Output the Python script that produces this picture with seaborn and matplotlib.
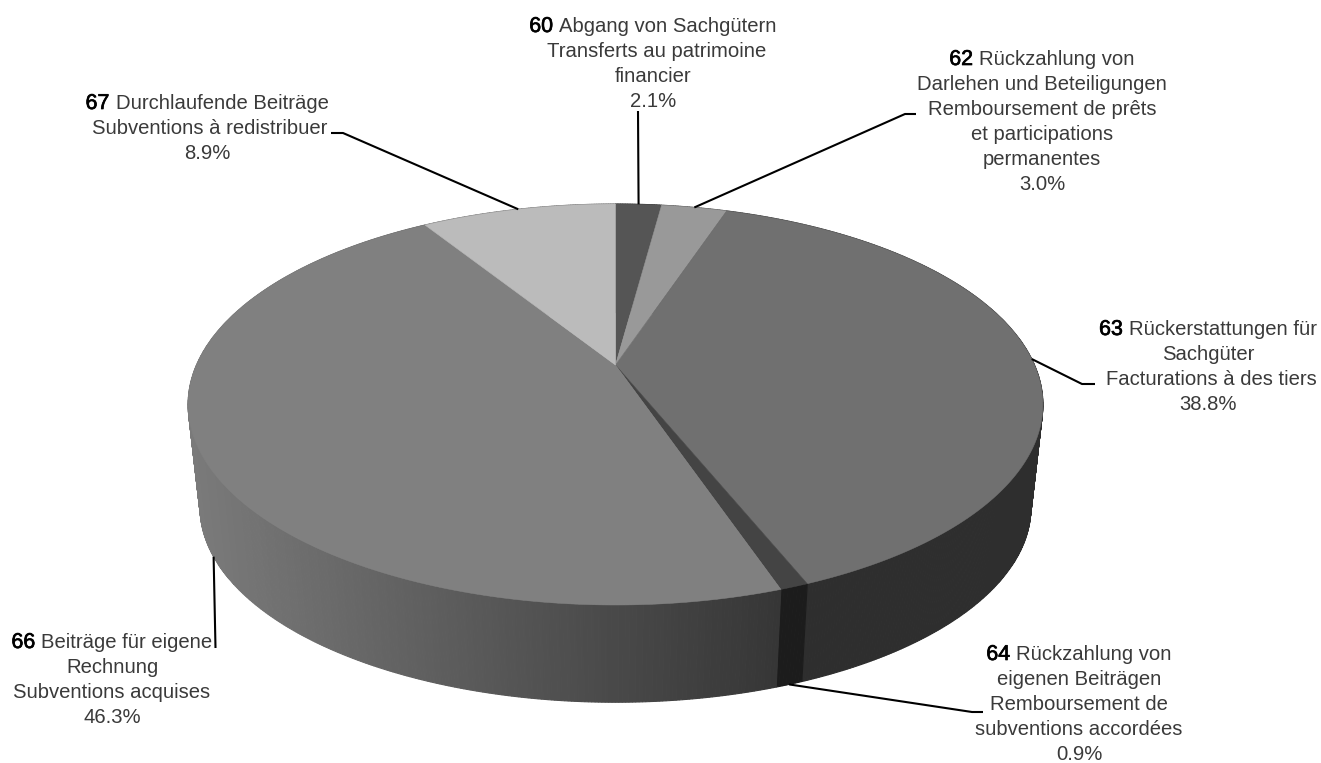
import numpy as np
import matplotlib.pyplot as plt
import matplotlib.patheffects as pe
import seaborn as sns

# Anteile in Prozent, im Uhrzeigersinn ab 12 Uhr
codes = ["60", "62", "63", "64", "66", "67"]
shares = [2.1, 3.0, 38.8, 0.9, 46.3, 8.9]
first_lines = [
    "Abgang von Sachgütern",
    "Rückzahlung von",
    "Rückerstattungen für",
    "Rückzahlung von",
    "Beiträge für eigene",
    "Durchlaufende Beiträge",
]
other_lines = [
    ["Transferts au patrimoine", "financier"],
    ["Darlehen und Beteiligungen", "Remboursement de prêts", "et participations", "permanentes"],
    ["Sachgüter", "Facturations à des tiers"],
    ["eigenen Beiträgen", "Remboursement de", "subventions accordées"],
    ["Rechnung", "Subventions acquises"],
    ["Subventions à redistribuer"],
]
top_colors = ["#555555", "#999999", "#707070", "#444444", "#808080", "#bbbbbb"]
side_colors = ["#2a2a2a", "#3a3a3a", "#2e2e2e", "#1c1c1c", None, "#5c5c5c"]
grad_dark, grad_light = "#363636", "#7a7a7a"

# Lage der Beschriftungen (Mitte x, Grundlinie erste Zeile y)
label_pos = [(653, 32), (1042, 65), (1208, 335), (1079, 660), (112, 648), (207, 109)]
# Zeilen, die im Original leicht versetzt stehen
nudge = {"Transferts au patrimoine": 4, "Facturations à des tiers": 3, "Subventions à redistribuer": 3}
# Knick und Ende der Führungslinien
leader_bend = [(638, 111), (905, 114), (1082, 384), (972, 712), (215.5, 648), (343, 133)]
leader_end = [(638, 111), (916, 114), (1095, 384), (983, 712), (215.5, 648), (331, 133)]
line_step = 25

# Perspektive der Scheibe
cx, cy_top, cy_bot = 615.5, 365, 469
R, K, P, S = 419, 192.7, 0.197, 0.972


def rim(theta, bottom=False):
    x, y = np.sin(theta), np.cos(theta)
    w = 1 + P * y
    if bottom:
        return cx + S * R * x / w, cy_bot - S * K * y / w
    return cx + R * x / w, cy_top - K * y / w


sns.set_theme(style="white")
plt.rcParams["font.family"] = ["Liberation Sans", "DejaVu Sans"]

fig, ax = plt.subplots(figsize=(13.21, 7.63), dpi=100)
fig.subplots_adjust(0, 0, 1, 1)
ax.set_xlim(0, 1321)
ax.set_ylim(763, 0)
ax.axis("off")

edges = np.cumsum([0] + shares) / sum(shares) * 2 * np.pi
edges[-1] = 2 * np.pi

# Seitenwand als schmale Streifen, hinten zuerst; 66 mit Verlauf nach x
grad = sns.blend_palette([grad_light, grad_dark], 256)
strips = []
for i in range(len(shares)):
    n = max(int((edges[i + 1] - edges[i]) * 150), 3)
    th = np.linspace(edges[i], edges[i + 1], n + 1)
    for t0, t1 in zip(th[:-1], th[1:]):
        strips.append((i, t0, t1))
strips.sort(key=lambda s: -np.cos((s[1] + s[2]) / 2))
for i, t0, t1 in strips:
    x0, y0 = rim(t0)
    x1, y1 = rim(t1)
    x2, y2 = rim(t1, True)
    x3, y3 = rim(t0, True)
    col = side_colors[i]
    if col is None:
        col = grad[int(np.clip((x3 - 205) / (775 - 205), 0, 1) * 255)]
    ax.fill([x0, x1, x2, x3], [y0, y1, y2, y3], color=col, lw=0.8, zorder=1)

# Deckfläche
for i in range(len(shares)):
    th = np.linspace(edges[i], edges[i + 1], 200)
    xs, ys = rim(th)
    ax.fill(np.r_[cx, xs], np.r_[cy_top, ys], color=top_colors[i], lw=0.4, zorder=2)

# Führungslinien (Start in der Sektormitte, 64 und 66 am unteren Rand)
mids = (edges[:-1] + edges[1:]) / 2
for i in range(len(shares)):
    sx, sy = rim(mids[i], bottom=codes[i] in ("64", "66"))
    ax.plot([sx, leader_bend[i][0], leader_end[i][0]], [sy, leader_bend[i][1], leader_end[i][1]],
            color="black", lw=1.5, solid_capstyle="butt", solid_joinstyle="round", zorder=3)

# Beschriftungen
fs = 14.6
txt_col = "#3a3a3a"
rend = fig.canvas.get_renderer()
for i in range(len(shares)):
    x, y = label_pos[i]
    num = ax.text(0, y, codes[i], fontsize=15.4, color="black", va="baseline", ha="left",
                  path_effects=[pe.withStroke(linewidth=0.5, foreground="black")])
    rest = ax.text(0, y, first_lines[i], fontsize=fs, color=txt_col, va="baseline", ha="left")
    w_num = num.get_window_extent(rend).width + 6
    w_rest = rest.get_window_extent(rend).width
    start = x - (w_num + w_rest) / 2
    num.set_x(start)
    rest.set_x(start + w_num)
    lines = other_lines[i] + [f"{shares[i]:.1f}%"]
    for k, line in enumerate(lines):
        ax.text(x + nudge.get(line, 0), y + (k + 1) * line_step, line, fontsize=fs, color=txt_col,
                va="baseline", ha="center")

fig.savefig("out.png", dpi=100, facecolor="white")
